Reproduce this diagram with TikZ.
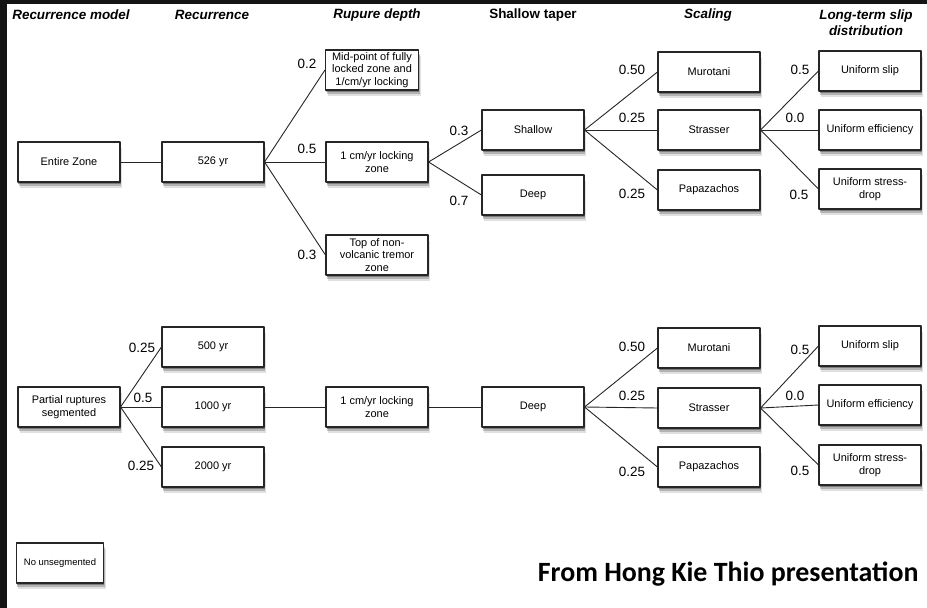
\documentclass[tikz,border=0pt]{standalone}
\usepackage{fontspec}
\setmainfont{Liberation Sans}
\newfontfamily\creditfont{Carlito}
\usetikzlibrary{shadows}

\begin{document}
\begin{tikzpicture}[x=1bp,y=-1bp,line join=bevel,
  box/.style={draw=black!85, line width=1.1bp, fill=white, minimum width=102bp,
    minimum height=40bp, inner sep=1bp, align=center,
    font=\fontsize{11}{12.5}\selectfont,
    drop shadow={shadow xshift=2bp, shadow yshift=-6bp, opacity=0.12, fill=black},
    drop shadow={shadow xshift=1bp, shadow yshift=-4bp, opacity=0.2, fill=black},
    drop shadow={shadow xshift=0.5bp, shadow yshift=-2bp, opacity=0.3, fill=black}},
  prob/.style={font=\fontsize{13.5}{15}\selectfont},
  head/.style={font=\bfseries\itshape\fontsize{13.5}{16}\selectfont, align=center},
  edge/.style={draw=black!85, line width=0.9bp}]
%%
  \fill[black!92] (0,0) rectangle (927,608);
  \fill[white] (7,4) rectangle (927,608);
  \useasboundingbox (0,0) rectangle (927,608);
  % Column heads
  \node[head] (hmodel) at (71,15) {Recurrence model};
  \node[head] (hrec) at (212,15) {Recurrence};
  \node[head] (hdepth) at (377,15) {Rupure depth};
  \node[head, font=\bfseries\fontsize{13.5}{16}\selectfont] (htaper) at (533,15) {Shallow taper};
  \node[head] (hscale) at (708,15) {Scaling};
  \node[head] (hslip) at (866,23) {Long-term slip\\distribution};
  % Nodes: entire zone tree
  \node[box] (entire) at (69,162) {Entire Zone};
  \node[box] (r526) at (213,162) {526 yr};
  \node[box, minimum width=93bp] (midpt) at (372,70) {Mid-point of fully\\locked zone and\\1/cm/yr locking};
  \node[box] (lock) at (377,162) {1 cm/yr locking\\zone};
  \node[box] (tremor) at (377,255) {Top of non-\\volcanic tremor\\zone};
  \node[box] (shallow) at (533,130) {Shallow};
  \node[box] (deep) at (533,195) {Deep};
  \node[box] (muro) at (709,72) {Murotani};
  \node[box] (stras) at (709,130) {Strasser};
  \node[box] (papa) at (709,190) {Papazachos};
  \node[box] (uslip) at (870,71) {Uniform slip};
  \node[box] (ueff) at (870,130) {Uniform efficiency};
  \node[box] (ustress) at (870,189) {Uniform stress-\\drop};
  % Nodes: partial ruptures tree
  \node[box] (partial) at (69,407) {Partial ruptures\\segmented};
  \node[box] (r500) at (213,347) {500 yr};
  \node[box] (r1000) at (213,407) {1000 yr};
  \node[box] (r2000) at (213,467) {2000 yr};
  \node[box] (lockB) at (377,407) {1 cm/yr locking\\zone};
  \node[box] (deepB) at (533,407) {Deep};
  \node[box] (muroB) at (709,348) {Murotani};
  \node[box] (strasB) at (709,408) {Strasser};
  \node[box] (papaB) at (709,467) {Papazachos};
  \node[box] (uslipB) at (870,346) {Uniform slip};
  \node[box] (ueffB) at (870,405) {Uniform efficiency};
  \node[box] (ustressB) at (870,465) {Uniform stress-\\drop};
  % Node: no unsegmented
  \node[box, minimum width=87bp, font=\fontsize{9.5}{11}\selectfont] (noseg) at (60,563) {No unsegmented};
  % Edges: entire zone tree
  \draw[edge] (entire) -- (r526);
  \draw[edge] (r526.east) -- (midpt.west);
  \draw[edge] (r526.east) -- (lock.west);
  \draw[edge] (r526.east) -- (tremor.west);
  \draw[edge] (lock.east) -- (shallow.west);
  \draw[edge] (lock.east) -- (deep.west);
  \draw[edge] (shallow.east) -- (muro.west);
  \draw[edge] (shallow.east) -- (stras.west);
  \draw[edge] (shallow.east) -- (papa.west);
  \draw[edge] (stras.east) -- (uslip.west);
  \draw[edge] (stras.east) -- (ueff.west);
  \draw[edge] (stras.east) -- (ustress.west);
  % Edges: partial ruptures tree
  \draw[edge] (partial.east) -- (r500.west);
  \draw[edge] (partial.east) -- (r1000.west);
  \draw[edge] (partial.east) -- (r2000.west);
  \draw[edge] (r1000) -- (lockB);
  \draw[edge] (lockB) -- (deepB);
  \draw[edge] (deepB.east) -- (muroB.west);
  \draw[edge] (deepB.east) -- (strasB.west);
  \draw[edge] (deepB.east) -- (papaB.west);
  \draw[edge] (strasB.east) -- (uslipB.west);
  \draw[edge] (strasB.east) -- (ueffB.west);
  \draw[edge] (strasB.east) -- (ustressB.west);
  % Probabilities
  \node[prob] (p02) at (307,64) {0.2};
  \node[prob] (p05) at (307,149) {0.5};
  \node[prob] (p03) at (307,255) {0.3};
  \node[prob] (pshal) at (459,131) {0.3};
  \node[prob] (pdeep) at (459,201) {0.7};
  \node[prob] (pmuro) at (632,70) {0.50};
  \node[prob] (pstras) at (632,118) {0.25};
  \node[prob] (ppapa) at (632,194) {0.25};
  \node[prob] (pslip) at (800,70) {0.5};
  \node[prob] (peff) at (795,118) {0.0};
  \node[prob] (pstress) at (799,195) {0.5};
  \node[prob] (p500) at (142,348) {0.25};
  \node[prob] (p1000) at (143,398) {0.5};
  \node[prob] (p2000) at (141,466) {0.25};
  \node[prob] (pmuroB) at (632,347) {0.50};
  \node[prob] (pstrasB) at (632,396) {0.25};
  \node[prob] (ppapaB) at (632,472) {0.25};
  \node[prob] (pslipB) at (800,350) {0.5};
  \node[prob] (peffB) at (795,396) {0.0};
  \node[prob] (pstressB) at (800,471) {0.5};
  % Credit
  \node[anchor=east, font=\creditfont\bfseries\fontsize{28}{30}\selectfont] (credit) at (922,574) {From Hong Kie Thio presentation};
%
\end{tikzpicture}
\end{document}
